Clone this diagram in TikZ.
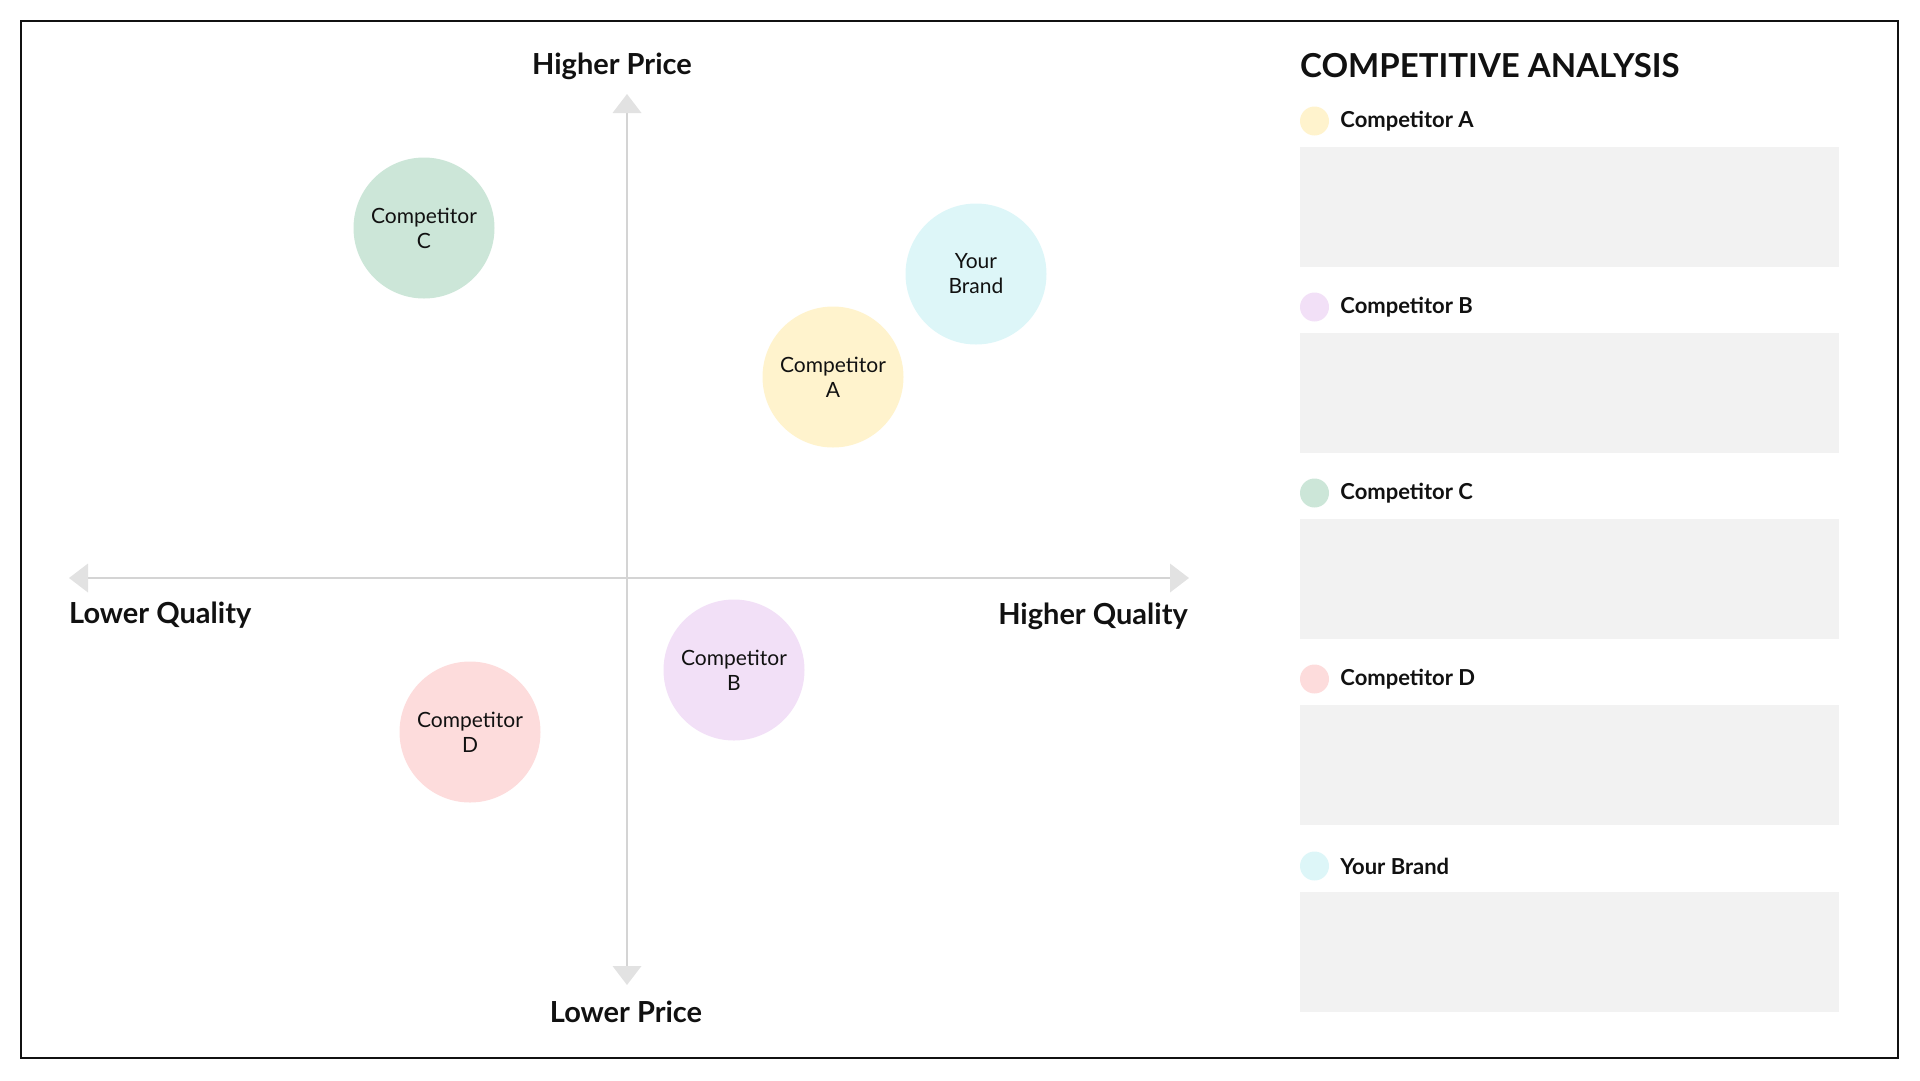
\documentclass[tikz,border=0pt]{standalone}
\usepackage{fontspec}
\setmainfont{Lato}
\usetikzlibrary{positioning}
\usetikzlibrary{arrows.meta}
\definecolor{framecol}{HTML}{111111}
\definecolor{axisgray}{HTML}{D4D4D4}
\definecolor{axishead}{HTML}{E2E2E2}
\definecolor{noteback}{HTML}{F2F2F2}
\definecolor{colA}{HTML}{FFF3CD}
\definecolor{colB}{HTML}{F2E0F7}
\definecolor{colC}{HTML}{CCE6D8}
\definecolor{colD}{HTML}{FDDCDC}
\definecolor{colBrand}{HTML}{DDF6F8}

\begin{document}
\begin{tikzpicture}
			[
				x = 1pt, y = -1pt,
				axis/.style = {draw = axisgray, line width = 2pt, {Triangle[length = 19pt, width = 29pt, line width = 0pt, color = axishead]}-{Triangle[length = 19pt, width = 29pt, line width = 0pt, color = axishead]}},
				axislabel/.style = {inner sep = 0pt, text = framecol, font = \fontsize{29}{34}\selectfont\bfseries},
				bubble/.style = {circle, minimum size = 141pt, inner sep = 0pt, align = center, text = framecol, font = \fontsize{21}{25}\selectfont},
				dot/.style = {circle, minimum size = 29pt, inner sep = 0pt},
				legend/.style = {inner sep = 0pt, text = framecol, font = \fontsize{22}{26}\selectfont\bfseries},
				note/.style = {rectangle, minimum width = 539pt, minimum height = 120pt, inner sep = 0pt, fill = noteback, anchor = north west},
			]
			\useasboundingbox (0,0) rectangle (1920,1080);
			\draw [line width = 2.5pt, framecol] (21,21) rectangle (1898,1058);

			% axes
			\coordinate (top) at (627,94);
			\coordinate (bottom) at (627,985);
			\coordinate (left) at (69,578);
			\coordinate (right) at (1189,578);
			\draw [axis] (left) -- (right);
			\draw [axis] (bottom) -- (top);
			\node (highprice) [axislabel] at (612,66) {Higher Price};
			\node (lowprice) [axislabel] at (626,1012) {Lower Price};
			\node (lowquality) [axislabel, anchor = west] at (69,615) {Lower Quality};
			\node (highquality) [axislabel, anchor = east] at (1188,616) {Higher Quality};

			% positions
			\node (compC) [bubble, fill = colC] at (424,228) {Competitor\\C};
			\node (brand) [bubble, fill = colBrand] at (976,274) {Your\\Brand};
			\node (compA) [bubble, fill = colA] at (833,377) {Competitor\\A};
			\node (compB) [bubble, fill = colB] at (734,670) {Competitor\\B};
			\node (compD) [bubble, fill = colD] at (470,732) {Competitor\\D};

			% analysis panel
			\node (title) [anchor = west, inner sep = 0pt, text = framecol, font = \fontsize{33}{39}\selectfont\bfseries] at (1300,66) {COMPETITIVE ANALYSIS};
			\node (dotA) [dot, fill = colA] at (1314.5,121) {};
			\node (labelA) [legend, right = 11pt of dotA] {Competitor A};
			\node (noteA) [note] at (1300,147) {};
			\node (dotB) [dot, fill = colB] at (1314.5,307) {};
			\node (labelB) [legend, right = 11pt of dotB] {Competitor B};
			\node (noteB) [note] at (1300,333) {};
			\node (dotC) [dot, fill = colC] at (1314.5,493) {};
			\node (labelC) [legend, right = 11pt of dotC] {Competitor C};
			\node (noteC) [note] at (1300,519) {};
			\node (dotD) [dot, fill = colD] at (1314.5,679) {};
			\node (labelD) [legend, right = 11pt of dotD] {Competitor D};
			\node (noteD) [note] at (1300,705) {};
			\node (dotBrand) [dot, fill = colBrand] at (1314.5,866) {};
			\node (labelBrand) [legend, right = 11pt of dotBrand] {Your Brand};
			\node (noteBrand) [note] at (1300,892) {};
		\end{tikzpicture}
\end{document}
